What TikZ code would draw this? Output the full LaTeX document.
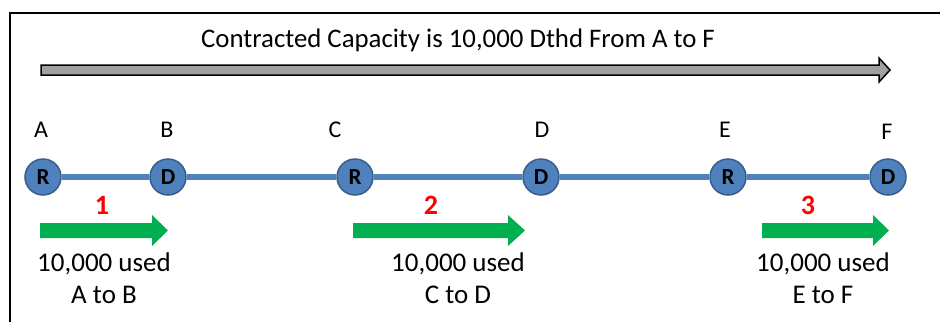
\documentclass[tikz,border=0pt]{standalone}
\usepackage{fontspec}
\setmainfont{Carlito}
\definecolor{lineblue}{HTML}{4F81BD}
\definecolor{rimblue}{HTML}{385D8A}
\definecolor{usegreen}{HTML}{00B050}
\definecolor{bargray}{HTML}{A0A0A0}
\tikzset{
  station/.style={circle,fill=lineblue,draw=rimblue,line width=1.5pt,minimum size=36pt,inner sep=0pt,font=\fontsize{23}{23}\selectfont\bfseries},
  pipe/.style={draw=lineblue,line width=6pt},
  ptlabel/.style={font=\fontsize{24}{24}\selectfont},
  usetext/.style={font=\fontsize{27}{32}\selectfont,align=center},
  stepnum/.style={font=\fontsize{28}{28}\selectfont\bfseries,text=red},
  usearrow/.style={fill=usegreen},
  frameline/.style={line width=2pt},
}
\begin{document}
\begin{tikzpicture}[x=1pt,y=-1pt]
\useasboundingbox (0,0) rectangle (940,322);
\draw[frameline] (10,322) -- (10,13) -- (940,13);
\node[font=\fontsize{26.8}{27}\selectfont] (title) at (458,40) {Contracted Capacity is 10,000 Dthd From A to F};
\filldraw[fill=bargray,draw=black,line width=1.5pt] (41,65) -- (879,65) -- (879,58) -- (890,70) -- (879,82) -- (879,75) -- (41,75) -- cycle;
% stations
\node[station] (r1) at (43,177) {R};
\node[station] (d1) at (168,177) {D};
\node[station] (r2) at (355,177) {R};
\node[station] (d2) at (541,177) {D};
\node[station] (r3) at (728,177) {R};
\node[station] (d3) at (888,177) {D};
\draw[pipe] (r1) -- (d1);
\draw[pipe] (d1) -- (r2);
\draw[pipe] (r2) -- (d2);
\draw[pipe] (d2) -- (r3);
\draw[pipe] (r3) -- (d3);
% point labels
\node[ptlabel] (la) at (41,130) {A};
\node[ptlabel] (lb) at (167,130) {B};
\node[ptlabel] (lc) at (335,130) {C};
\node[ptlabel] (ld) at (542,130) {D};
\node[ptlabel] (le) at (725,130) {E};
\node[ptlabel] (lf) at (887,132) {F};
% step numbers
\node[stepnum] (n1) at (102,205) {1};
\node[stepnum] (n2) at (431,205) {2};
\node[stepnum] (n3) at (808,205) {3};
% green arrows
\fill[usearrow] (40,223) -- (152,223) -- (152,215) -- (168,230.5) -- (152,246) -- (152,238) -- (40,238) -- cycle;
\fill[usearrow] (353,223) -- (508,223) -- (508,215) -- (525,230.5) -- (508,246) -- (508,238) -- (353,238) -- cycle;
\fill[usearrow] (762,223) -- (873,223) -- (873,215) -- (889,230.5) -- (873,246) -- (873,238) -- (762,238) -- cycle;
% texts
\node[usetext] (t1) at (104,278) {10,000 used\\A to B};
\node[usetext] (t2) at (458,278) {10,000 used\\C to D};
\node[usetext] (t3) at (823,278) {10,000 used\\E to F};
\end{tikzpicture}
\end{document}
